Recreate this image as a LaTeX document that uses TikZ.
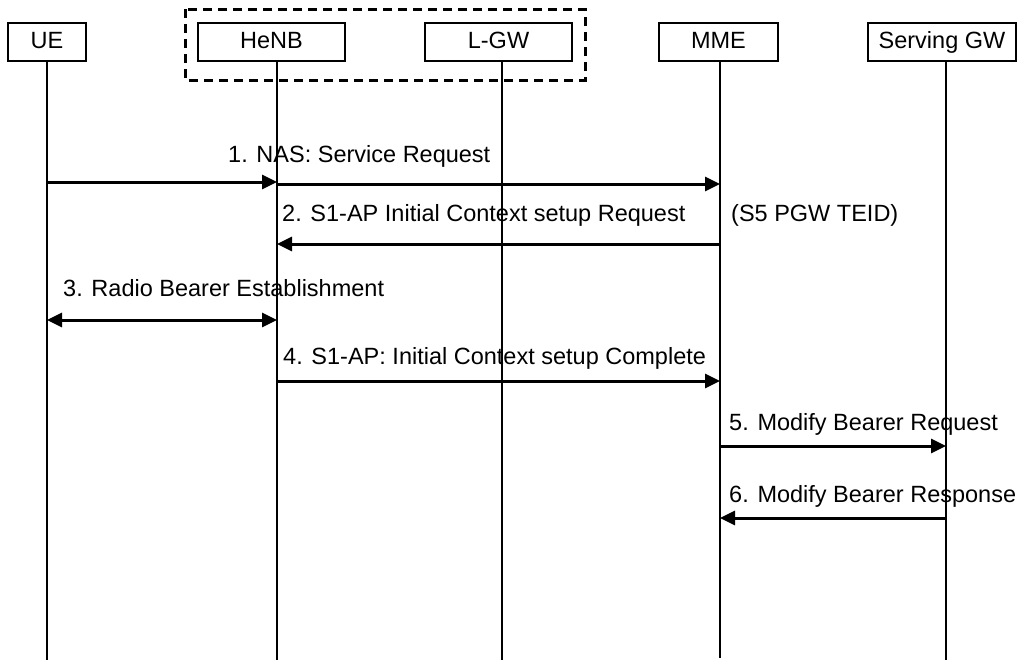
\documentclass[tikz,border=0pt]{standalone}
\usepackage{fontspec}
\setmainfont{Liberation Sans}
\usetikzlibrary{arrows.meta}
\usetikzlibrary{calc}

\tikzset{
  box/.style={draw,line width=2.6pt,minimum height=38pt,inner sep=0pt,text height=17pt,text depth=5pt},
  group/.style={line width=3pt,dash pattern=on 9pt off 6pt},
  life/.style={line width=1.3pt},
  msg/.style={line width=3pt,-{Triangle[length=15pt,width=14pt]}},
  msgboth/.style={line width=3pt,{Triangle[length=15pt,width=14pt]}-{Triangle[length=15pt,width=14pt]}},
  lbl/.style={anchor=base west,inner sep=0pt},
}

\begin{document}
\begin{tikzpicture}[x=1pt,y=-1pt,font=\fontsize{23.5}{28}\selectfont]
\useasboundingbox (0,0) rectangle (1021,664);
% entites
\node[box,minimum width=78pt] (UE) at (47,42) {UE};
\node[box,minimum width=147pt] (HeNB) at (271.5,42) {HeNB};
\node[box,minimum width=147pt] (LGW) at (498.5,42) {L-GW};
\node[box,minimum width=119pt] (MME) at (718.5,42) {MME};
\node[box,minimum width=148pt] (SGW) at (942,42) {Serving GW};
\draw[group] (185,9) rectangle (585,80);% HeNB + L-GW
% lignes de vie
\coordinate (l-UE) at (47,660);
\coordinate (l-HeNB) at (277,660);
\coordinate (l-LGW) at (502,660);
\coordinate (l-MME) at (720,658);
\coordinate (l-SGW) at (946,660);
\draw[life] (UE.south -| l-UE) -- (l-UE);
\draw[life] (HeNB.south -| l-HeNB) -- (l-HeNB);
\draw[life] (LGW.south -| l-LGW) -- (l-LGW);
\draw[life] (MME.south -| l-MME) -- (l-MME);
\draw[life] (SGW.south -| l-SGW) -- (l-SGW);
% messages
\node[lbl] (t1) at (228,162) {1. NAS: Service Request};
\draw[msg] (l-UE |- 0,182) -- (l-HeNB |- 0,182);
\draw[msg] (l-HeNB |- 0,184) -- (l-MME |- 0,184);
\node[lbl] (t2) at (282,221) {2. S1-AP Initial Context setup Request};
\node[lbl] (t2b) at (731,221) {(S5 PGW TEID)};
\draw[msg] (l-MME |- 0,244) -- (l-HeNB |- 0,244);
\node[lbl] (t3) at (63,296) {3. Radio Bearer Establishment};
\draw[msgboth] (l-UE |- 0,320) -- (l-HeNB |- 0,320);
\node[lbl] (t4) at (283,364) {4. S1-AP: Initial Context setup Complete};
\draw[msg] (l-HeNB |- 0,381) -- (l-MME |- 0,381);
\node[lbl] (t5) at (729,430) {5. Modify Bearer Request};
\draw[msg] (l-MME |- 0,446) -- (l-SGW |- 0,446);
\node[lbl] (t6) at (729,502) {6. Modify Bearer Response};
\draw[msg] (l-SGW |- 0,518) -- (l-MME |- 0,518);
\end{tikzpicture}
\end{document}
